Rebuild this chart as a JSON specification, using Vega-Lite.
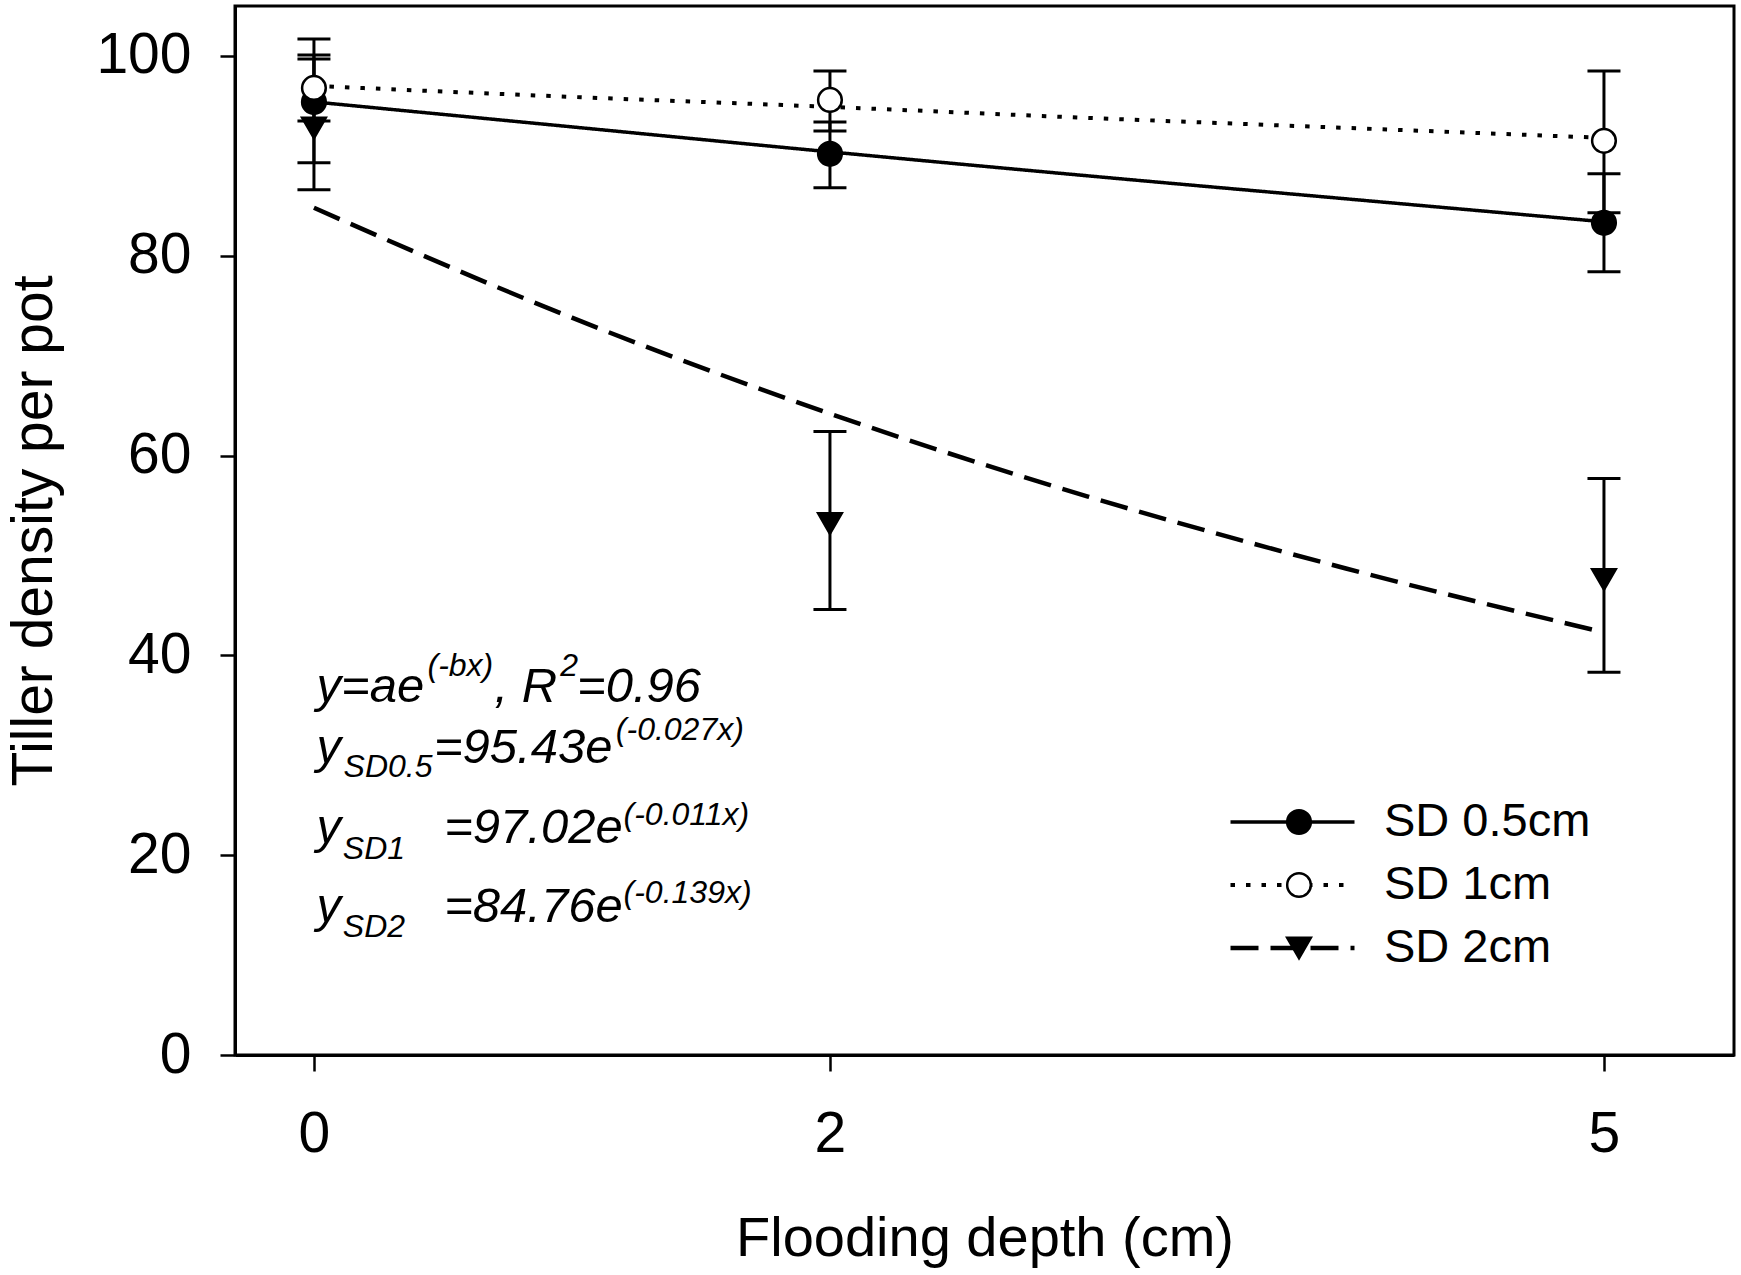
{
  "$schema": "https://vega.github.io/schema/vega-lite/v6.json",
  "width": 1499,
  "height": 1049,
  "autosize": {"type": "none"},
  "padding": {"left": 235, "top": 6, "right": 7, "bottom": 220},
  "background": "white",
  "config": {
    "font": "Liberation Sans",
    "view": {"stroke": "black", "strokeWidth": 3},
    "axis": {
      "grid": false,
      "domainColor": "black",
      "domainWidth": 3,
      "tickColor": "black",
      "tickWidth": 2.5,
      "labelColor": "black",
      "titleColor": "black",
      "labelFont": "Liberation Sans",
      "titleFont": "Liberation Sans",
      "labelFontSize": 57,
      "titleFontSize": 57,
      "titleFontWeight": "normal"
    }
  },
  "datasets": {
    "fit": [
      {"depth": 0, "series": "SD 0.5cm", "tiller": 95.4},
      {"depth": 1, "series": "SD 0.5cm", "tiller": 92.9},
      {"depth": 2, "series": "SD 0.5cm", "tiller": 90.4},
      {"depth": 3, "series": "SD 0.5cm", "tiller": 88.0},
      {"depth": 4, "series": "SD 0.5cm", "tiller": 85.7},
      {"depth": 5, "series": "SD 0.5cm", "tiller": 83.4},
      {"depth": 0, "series": "SD 1cm", "tiller": 97.0},
      {"depth": 1, "series": "SD 1cm", "tiller": 95.9},
      {"depth": 2, "series": "SD 1cm", "tiller": 94.9},
      {"depth": 3, "series": "SD 1cm", "tiller": 93.8},
      {"depth": 4, "series": "SD 1cm", "tiller": 92.8},
      {"depth": 5, "series": "SD 1cm", "tiller": 91.8},
      {"depth": 0, "series": "SD 2cm", "tiller": 84.8},
      {"depth": 1, "series": "SD 2cm", "tiller": 73.8},
      {"depth": 2, "series": "SD 2cm", "tiller": 64.2},
      {"depth": 3, "series": "SD 2cm", "tiller": 55.9},
      {"depth": 4, "series": "SD 2cm", "tiller": 48.7},
      {"depth": 5, "series": "SD 2cm", "tiller": 42.3}
    ],
    "obs": [
      {"depth": 0, "treatment": "SD0.5", "mean": 95.4, "lo": 89.3, "hi": 101.7},
      {"depth": 2, "treatment": "SD0.5", "mean": 90.2, "lo": 86.8, "hi": 93.4},
      {"depth": 5, "treatment": "SD0.5", "mean": 83.3, "lo": 78.4, "hi": 88.2},
      {"depth": 0, "treatment": "SD1", "mean": 96.8, "lo": 93.5, "hi": 100.1},
      {"depth": 2, "treatment": "SD1", "mean": 95.6, "lo": 92.5, "hi": 98.5},
      {"depth": 5, "treatment": "SD1", "mean": 91.5, "lo": 84.3, "hi": 98.5},
      {"depth": 0, "treatment": "SD2", "mean": 92.8, "lo": 86.6, "hi": 99.7},
      {"depth": 2, "treatment": "SD2", "mean": 53.2, "lo": 44.6, "hi": 62.4},
      {"depth": 5, "treatment": "SD2", "mean": 47.6, "lo": 38.3, "hi": 57.7}
    ]
  },
  "layer": [
    {
      "data": {"name": "fit"},
      "mark": {"type": "line", "color": "black", "strokeCap": "butt", "interpolate": "monotone"},
      "encoding": {
        "x": {
          "field": "depth",
          "type": "quantitative",
          "scale": {"domain": [-0.306, 5.504], "nice": false, "zero": false},
          "axis": {
            "values": [0, 2, 5],
            "format": "d",
            "tickSize": 16,
            "labelPadding": 80,
            "labelBaseline": "alphabetic",
            "labelFlush": false,
            "title": "Flooding depth (cm)",
            "titleFontSize": 56,
            "titleY": 200,
            "titleBaseline": "alphabetic"
          }
        },
        "y": {
          "field": "tiller",
          "type": "quantitative",
          "scale": {"domain": [0, 105], "nice": false},
          "axis": {
            "values": [0, 20, 40, 60, 80, 100],
            "tickSize": 15,
            "labelPadding": 29,
            "title": "Tiller density per pot",
            "titleX": -184,
            "titleY": 524.5,
            "titleAngle": 270,
            "titleAlign": "center",
            "titleBaseline": "alphabetic"
          }
        },
        "strokeDash": {
          "field": "series",
          "type": "nominal",
          "scale": {"domain": ["SD 0.5cm", "SD 1cm", "SD 2cm"], "range": [[1, 0], [4.5, 11], [28, 12]]},
          "legend": {
            "title": null,
            "orient": "none",
            "legendX": 993,
            "legendY": 792,
            "padding": 0,
            "symbolType": "stroke",
            "symbolSize": 15376,
            "symbolStrokeColor": "black",
            "symbolStrokeWidth": 4,
            "clipHeight": 48,
            "rowPadding": 15,
            "labelFont": "Liberation Sans",
            "labelFontSize": 47,
            "labelColor": "black",
            "labelLimit": 500,
            "labelOffset": 27
          }
        },
        "strokeWidth": {
          "field": "series",
          "type": "nominal",
          "scale": {"domain": ["SD 0.5cm", "SD 1cm", "SD 2cm"], "range": [3.5, 4.5, 3.5]},
          "legend": null
        }
      }
    },
    {
      "data": {"name": "obs"},
      "mark": {"type": "rule", "color": "black", "strokeWidth": 3},
      "encoding": {
        "x": {"field": "depth", "type": "quantitative"},
        "y": {"field": "lo", "type": "quantitative"},
        "y2": {"field": "hi"}
      }
    },
    {
      "data": {"name": "obs"},
      "mark": {"type": "tick", "orient": "horizontal", "color": "black", "size": 33, "thickness": 3, "opacity": 1},
      "encoding": {
        "x": {"field": "depth", "type": "quantitative"},
        "y": {"field": "lo", "type": "quantitative"}
      }
    },
    {
      "data": {"name": "obs"},
      "mark": {"type": "tick", "orient": "horizontal", "color": "black", "size": 33, "thickness": 3, "opacity": 1},
      "encoding": {
        "x": {"field": "depth", "type": "quantitative"},
        "y": {"field": "hi", "type": "quantitative"}
      }
    },
    {
      "data": {"name": "obs"},
      "mark": {"type": "point", "strokeWidth": 2.5, "opacity": 1},
      "encoding": {
        "x": {"field": "depth", "type": "quantitative"},
        "y": {"field": "mean", "type": "quantitative"},
        "shape": {
          "field": "treatment",
          "type": "nominal",
          "scale": {"domain": ["SD0.5", "SD1", "SD2"], "range": ["circle", "circle", "triangle-down"]},
          "legend": {
            "title": null,
            "orient": "none",
            "legendX": 1040.5,
            "legendY": 792,
            "padding": 0,
            "clipHeight": 48,
            "rowPadding": 15,
            "labelFontSize": 47,
            "labelExpr": "''",
            "symbolStrokeWidth": 2.5
          }
        },
        "fill": {
          "field": "treatment",
          "type": "nominal",
          "scale": {"domain": ["SD0.5", "SD1", "SD2"], "range": ["black", "white", "black"]},
          "legend": {
            "title": null,
            "orient": "none",
            "legendX": 1040.5,
            "legendY": 792,
            "padding": 0,
            "clipHeight": 48,
            "rowPadding": 15,
            "labelFontSize": 47,
            "labelExpr": "''",
            "symbolStrokeWidth": 2.5
          }
        },
        "stroke": {
          "field": "treatment",
          "type": "nominal",
          "scale": {"domain": ["SD0.5", "SD1", "SD2"], "range": ["black", "black", "black"]},
          "legend": {
            "title": null,
            "orient": "none",
            "legendX": 1040.5,
            "legendY": 792,
            "padding": 0,
            "clipHeight": 48,
            "rowPadding": 15,
            "labelFontSize": 47,
            "labelExpr": "''",
            "symbolStrokeWidth": 2.5
          }
        },
        "size": {
          "field": "treatment",
          "type": "nominal",
          "scale": {"domain": ["SD0.5", "SD1", "SD2"], "range": [560, 560, 800]},
          "legend": {
            "title": null,
            "orient": "none",
            "legendX": 1040.5,
            "legendY": 792,
            "padding": 0,
            "clipHeight": 48,
            "rowPadding": 15,
            "labelFontSize": 47,
            "labelExpr": "''",
            "symbolStrokeWidth": 2.5
          }
        }
      }
    },
    {
      "data": {"values": [{}]},
      "layer": [
        {"mark": {"type": "text", "text": "y=ae", "align": "left", "baseline": "alphabetic", "fontSize": 49, "fontStyle": "italic", "color": "black"},
         "encoding": {"x": {"datum": 0.01}, "y": {"datum": 35.34}}},
        {"mark": {"type": "text", "text": "(-bx)", "align": "left", "baseline": "alphabetic", "fontSize": 32, "fontStyle": "italic", "color": "black"},
         "encoding": {"x": {"datum": 0.44}, "y": {"datum": 37.94}}},
        {"mark": {"type": "text", "text": ", R", "align": "left", "baseline": "alphabetic", "fontSize": 49, "fontStyle": "italic", "color": "black"},
         "encoding": {"x": {"datum": 0.7}, "y": {"datum": 35.34}}},
        {"mark": {"type": "text", "text": "2", "align": "left", "baseline": "alphabetic", "fontSize": 32, "fontStyle": "italic", "color": "black"},
         "encoding": {"x": {"datum": 0.955}, "y": {"datum": 37.94}}},
        {"mark": {"type": "text", "text": "=0.96", "align": "left", "baseline": "alphabetic", "fontSize": 49, "fontStyle": "italic", "color": "black"},
         "encoding": {"x": {"datum": 1.02}, "y": {"datum": 35.34}}},

        {"mark": {"type": "text", "text": "y", "align": "left", "baseline": "alphabetic", "fontSize": 49, "fontStyle": "italic", "color": "black"},
         "encoding": {"x": {"datum": 0.01}, "y": {"datum": 29.23}}},
        {"mark": {"type": "text", "text": "SD0.5", "align": "left", "baseline": "alphabetic", "fontSize": 32, "fontStyle": "italic", "color": "black"},
         "encoding": {"x": {"datum": 0.115}, "y": {"datum": 27.83}}},
        {"mark": {"type": "text", "text": "=95.43e", "align": "left", "baseline": "alphabetic", "fontSize": 49, "fontStyle": "italic", "color": "black"},
         "encoding": {"x": {"datum": 0.465}, "y": {"datum": 29.23}}},
        {"mark": {"type": "text", "text": "(-0.027x)", "align": "left", "baseline": "alphabetic", "fontSize": 32, "fontStyle": "italic", "color": "black"},
         "encoding": {"x": {"datum": 1.17}, "y": {"datum": 31.53}}},

        {"mark": {"type": "text", "text": "y", "align": "left", "baseline": "alphabetic", "fontSize": 49, "fontStyle": "italic", "color": "black"},
         "encoding": {"x": {"datum": 0.01}, "y": {"datum": 21.22}}},
        {"mark": {"type": "text", "text": "SD1", "align": "left", "baseline": "alphabetic", "fontSize": 32, "fontStyle": "italic", "color": "black"},
         "encoding": {"x": {"datum": 0.112}, "y": {"datum": 19.62}}},
        {"mark": {"type": "text", "text": "=97.02e", "align": "left", "baseline": "alphabetic", "fontSize": 49, "fontStyle": "italic", "color": "black"},
         "encoding": {"x": {"datum": 0.505}, "y": {"datum": 21.22}}},
        {"mark": {"type": "text", "text": "(-0.011x)", "align": "left", "baseline": "alphabetic", "fontSize": 32, "fontStyle": "italic", "color": "black"},
         "encoding": {"x": {"datum": 1.2}, "y": {"datum": 23.02}}},

        {"mark": {"type": "text", "text": "y", "align": "left", "baseline": "alphabetic", "fontSize": 49, "fontStyle": "italic", "color": "black"},
         "encoding": {"x": {"datum": 0.01}, "y": {"datum": 13.31}}},
        {"mark": {"type": "text", "text": "SD2", "align": "left", "baseline": "alphabetic", "fontSize": 32, "fontStyle": "italic", "color": "black"},
         "encoding": {"x": {"datum": 0.112}, "y": {"datum": 11.81}}},
        {"mark": {"type": "text", "text": "=84.76e", "align": "left", "baseline": "alphabetic", "fontSize": 49, "fontStyle": "italic", "color": "black"},
         "encoding": {"x": {"datum": 0.505}, "y": {"datum": 13.31}}},
        {"mark": {"type": "text", "text": "(-0.139x)", "align": "left", "baseline": "alphabetic", "fontSize": 32, "fontStyle": "italic", "color": "black"},
         "encoding": {"x": {"datum": 1.2}, "y": {"datum": 15.22}}}
      ]
    }
  ]
}
